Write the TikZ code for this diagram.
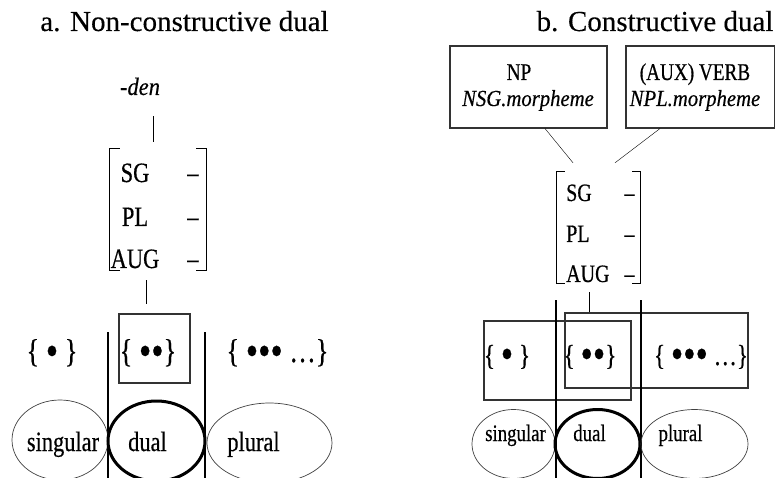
\documentclass[tikz,border=0pt]{standalone}
\usepackage{fontspec}
\setmainfont[FakeBold=0.3]{Liberation Serif}
\newfontfamily\narrowrm[FakeStretch=0.8, FakeBold=0.5]{Liberation Serif}
\newfontfamily\narrowit[FakeStretch=0.9, FakeBold=0.4]{Liberation Serif}
\usetikzlibrary{shapes.geometric}

\newcommand\bul{\raisebox{-3.5pt}{\fontsize{44}{44}\selectfont •}}

\tikzset{
  cat/.style={font=\narrowrm\fontsize{#1}{#1}\selectfont, inner sep=0pt, anchor=base},
  morph/.style={font=\narrowit\itshape\fontsize{#1}{#1}\selectfont, inner sep=0pt, anchor=base},
  heading/.style={font=\fontsize{29}{29}\selectfont, inner sep=0pt, anchor=base},
  featbox/.style={inner sep=0pt},
  setbox/.style={draw=black!80, line width=1.1pt, inner sep=0pt},
  numell/.style={ellipse, draw=black!75, line width=0.7pt, inner sep=0pt},
  dualell/.style={ellipse, draw, line width=3pt, inner sep=0pt},
  divider/.style={line width=2.6pt}
}

\begin{document}
\begin{tikzpicture}[x=1pt, y=-1pt]
        \useasboundingbox (0,0) rectangle (776,478);
        \clip (0,0) rectangle (776,478);

        \node[heading] (titleA) at (184.5,31) {a. Non-constructive dual};
        \node[heading] (titleB) at (655,31) {b. Constructive dual};

        \begin{scope}
          \node[morph=25] (den) at (140,95) {-den};
          \node[featbox, minimum width=96pt, minimum height=121pt] (featL) at (158,209.5) {};
          \foreach \lab/\y [count=\i] in {SG/182, PL/226, AUG/268} {
            \node[cat=28] (fL\i) at (135,\y) {\lab};
            \node[cat=28] (dL\i) at (193,\y) {–};
          }
          \node[setbox, minimum width=71pt, minimum height=69pt] (duBoxL) at (154.5,348.5) {};
          \node[cat=33] (sgSetL) at (52,362) {\{ \bul\ \}};
          \node[cat=33] (duSetL) at (148,362) {\{ \bul\bul\}};
          \node[cat=33] (plSetL) at (277.5,362) {\{ \bul\bul\bul\ …\}};

          \draw[shorten <=21pt, shorten >=7pt] ([xshift=13pt]den.south) -- ([xshift=-5pt]featL.north);
          \draw[shorten <=10pt, shorten >=9pt] ([xshift=-12pt]featL.south) -- ([xshift=-8.5pt]duBoxL.north);

          \draw[divider] (108,332) -- (108,478);
          \draw[divider] (205,332) -- (205,478);

          \node[numell, minimum width=96pt, minimum height=80pt] (sgEL) at (60,440) {};
          \node[dualell, minimum width=97pt, minimum height=80pt] (duEL) at (156.5,441) {};
          \node[numell, minimum width=125pt, minimum height=80pt] (plEL) at (269.5,443) {};
          \node[cat=28] (sgTL) at (63,451) {singular};
          \node[cat=28] (duTL) at (147.5,451) {dual};
          \node[cat=28] (plTL) at (253.5,451) {plural};
        \end{scope}

        \begin{scope}
          \node[setbox, minimum width=157pt, minimum height=82pt] (npBox) at (528.5,87) {};
          \node[setbox, minimum width=148.5pt, minimum height=82pt] (vbBox) at (700.25,87) {};
          \node[cat=24] (np) at (519,80) {NP};
          \node[morph=23] (npMorph) at (528,106) {NSG.morpheme};
          \node[cat=24] (vb) at (695,80) {(AUX) VERB};
          \node[morph=23] (vbMorph) at (695,106) {NPL.morpheme};

          \node[featbox, minimum width=83pt, minimum height=111pt] (featR) at (598.5,227.5) {};
          \foreach \lab/\y [count=\i] in {SG/201, PL/242, AUG/282} {
            \node[cat=25, anchor=base west] (fR\i) at (566,\y) {\lab};
            \node[cat=25] (dR\i) at (629.5,\y) {–};
          }

          \node[setbox, minimum width=147pt, minimum height=79pt] (sdBox) at (557.5,360.5) {};
          \node[setbox, minimum width=183pt, minimum height=75pt] (dpBox) at (656.5,350.5) {};
          \node[cat=29] (sgSetR) at (507,365) {\{ \bul\ \}};
          \node[cat=29] (duSetR) at (590,365) {\{ \bul\bul\}};
          \node[cat=29] (plSetR) at (701,365) {\{ \bul\bul\bul\ …\}};

          \draw ([xshift=16.5pt]npBox.south) -- ([xshift=-25.5pt,yshift=9pt]featR.north);
          \draw ([xshift=-40.25pt]vbBox.south) -- ([xshift=16.5pt,yshift=9pt]featR.north);
          \draw[shorten <=9pt] ([xshift=-9.5pt]featR.south) -- ([xshift=-67.5pt]dpBox.north);

          \draw[divider] (556,300) -- (556,478);
          \draw[divider] (641,300) -- (641,478);

          \node[numell, minimum width=83pt, minimum height=69pt] (sgER) at (513.5,444) {};
          \node[dualell, minimum width=85pt, minimum height=69pt] (duER) at (597.5,444) {};
          \node[numell, minimum width=107pt, minimum height=69pt] (plER) at (694.5,444) {};
          \node[cat=23.5] (sgTR) at (515.5,441) {singular};
          \node[cat=23.5] (duTR) at (589.5,441) {dual};
          \node[cat=23.5] (plTR) at (680.5,441) {plural};
        \end{scope}

        \foreach \f/\s in {featL/10, featR/8} {
          \draw[line width=1.1pt] ([xshift=\s pt]\f.north west) -- (\f.north west) -- (\f.south west) -- ([xshift=\s pt]\f.south west);
          \draw[line width=1.1pt] ([xshift=-\s pt]\f.north east) -- (\f.north east) -- (\f.south east) -- ([xshift=-\s pt]\f.south east);
        }

      \end{tikzpicture}
\end{document}
